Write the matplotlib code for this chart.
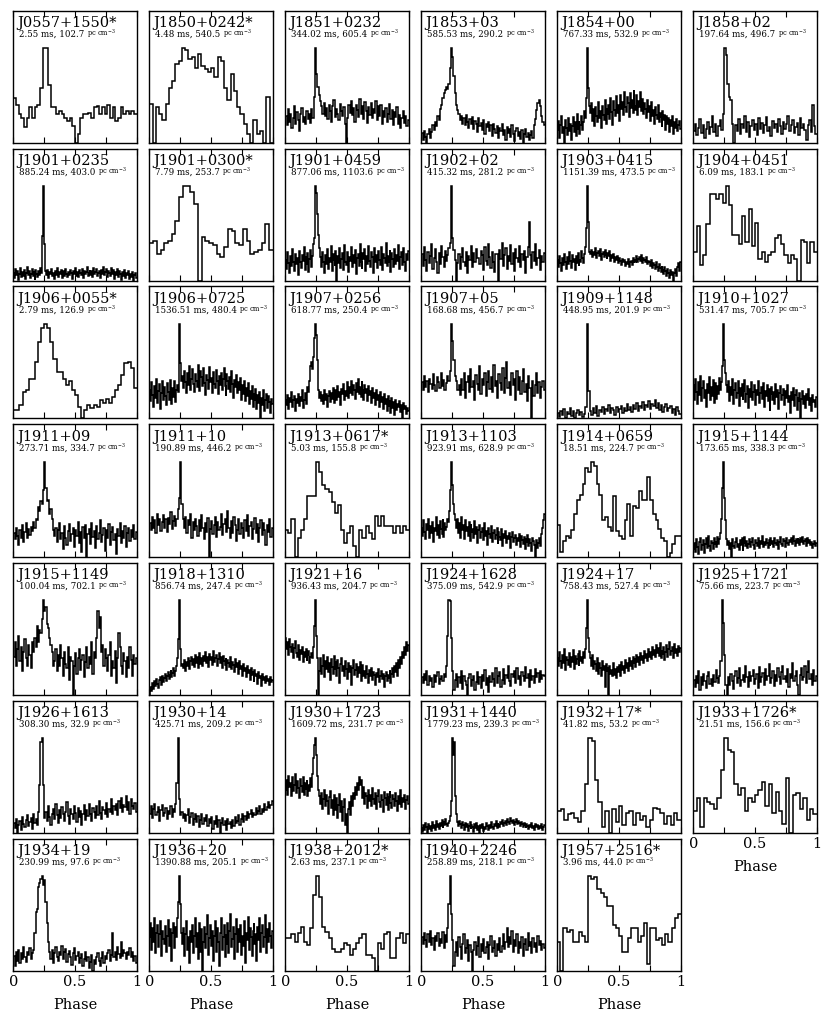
import numpy as np
import matplotlib
matplotlib.use("Agg")
from matplotlib import pyplot as plt

plt.rcParams["font.family"] = "DejaVu Serif"
plt.rcParams["mathtext.fontset"] = "dejavuserif"

names = ["J0557+1550*", "J1850+0242*", "J1851+0232", "J1853+03", "J1854+00", "J1858+02",
         "J1901+0235", "J1901+0300*", "J1901+0459", "J1902+02", "J1903+0415", "J1904+0451",
         "J1906+0055*", "J1906+0725", "J1907+0256", "J1907+05", "J1909+1148", "J1910+1027",
         "J1911+09", "J1911+10", "J1913+0617*", "J1913+1103", "J1914+0659", "J1915+1144",
         "J1915+1149", "J1918+1310", "J1921+16", "J1924+1628", "J1924+17", "J1925+1721",
         "J1926+1613", "J1930+14", "J1930+1723", "J1931+1440", "J1932+17*", "J1933+1726*",
         "J1934+19", "J1936+20", "J1938+2012*", "J1940+2246", "J1957+2516*"]
periods = [2.55, 4.48, 344.02, 585.53, 767.33, 197.64,
           885.24, 7.79, 877.06, 415.32, 1151.39, 6.09,
           2.79, 1536.51, 618.77, 168.68, 448.95, 531.47,
           273.71, 190.89, 5.03, 923.91, 18.51, 173.65,
           100.04, 856.74, 936.43, 375.09, 758.43, 75.66,
           308.30, 425.71, 1609.72, 1779.23, 41.82, 21.51,
           230.99, 1390.88, 2.63, 258.89, 3.96]
dms = [102.7, 540.5, 605.4, 290.2, 532.9, 496.7,
       403.0, 253.7, 1103.6, 281.2, 473.5, 183.1,
       126.9, 480.4, 250.4, 456.7, 201.9, 705.7,
       334.7, 446.2, 155.8, 628.9, 224.7, 338.3,
       702.1, 247.4, 204.7, 542.9, 527.4, 223.7,
       32.9, 209.2, 231.7, 239.3, 53.2, 156.6,
       97.6, 205.1, 237.1, 218.1, 44.0]

# pulse profiles (0 = min, 100 = max)
j0557 = [47, 40, 30, 26, 16, 26, 37, 26, 37, 40, 57, 100, 100, 61, 37, 37, 30, 33, 30, 26, 23, 26, 17, 0, 9, 26, 30, 30, 31, 26, 37, 38, 30, 37, 30, 40, 26, 37, 23, 26, 37, 30, 33, 30, 33, 30]
j1850 = [40, 0, 37, 30, 23, 40, 57, 64, 82, 85, 99, 96, 87, 89, 78, 92, 80, 77, 73, 78, 68, 89, 85, 57, 44, 71, 54, 37, 30, 19, 9, 0, 23, 9, 12, 0, 47, 0]
j1851 = [28, 18, 35, 22, 30, 15, 26, 38, 20, 32, 24, 12, 30, 36, 22, 27, 19, 33, 25, 30, 21, 35, 26, 48, 100, 72, 58, 50, 44, 38,
         30, 42, 28, 36, 25, 40, 33, 22, 38, 45, 27, 35, 30, 24, 41, 33, 28, 37, 20, 0, 26, 39, 31, 44, 29, 36, 22, 40, 34, 27,
         46, 30, 38, 25, 43, 33, 21, 37, 29, 42, 26, 35, 31, 44, 24, 38, 28, 40, 19, 33, 27, 36, 22, 30, 41, 25, 34, 18, 32, 27,
         37, 20, 29, 15, 26, 33, 21, 28, 17, 24]
j1853 = [10, 3, 12, 6, 0, 9, 14, 5, 11, 18, 13, 22, 17, 28, 24, 35, 40, 47, 52, 55, 58, 56, 62, 78, 100, 90, 70, 52, 40, 34,
         30, 24, 28, 20, 26, 18, 29, 22, 15, 25, 19, 27, 14, 23, 20, 11, 26, 17, 21, 13, 24, 9, 19, 16, 22, 12, 18, 7, 20, 14,
         10, 17, 5, 15, 12, 19, 8, 13, 3, 16, 10, 14, 6, 18, 9, 2, 12, 15, 7, 11, 4, 13, 0, 9, 14, 6, 10, 3, 8, 12,
         5, 18, 25, 34, 42, 45, 38, 28, 22, 18]
j1854 = [22, 30, 14, 27, 35, 19, 25, 10, 31, 24, 17, 33, 21, 28, 12, 26, 34, 20, 29, 16, 37, 23, 30, 18, 27, 35, 22, 29, 40, 33, 52,
         100, 62, 45,
         38, 47, 30, 42, 26, 44, 35, 29, 48, 33, 40, 24, 45, 36, 31, 50, 28, 43, 37, 46, 32, 52, 39, 27, 49, 41, 35, 54, 38, 46,
         30, 55, 42, 48, 36, 58, 44, 39, 53, 47, 34, 57, 43, 50, 38, 60, 45, 41, 55, 36, 49, 44, 58, 40, 51, 37, 47, 42, 33, 50,
         39, 45, 30, 48, 35, 41, 28, 44, 36, 32, 46, 29, 38, 34, 25, 40, 31, 36, 22, 35, 28, 33, 20, 31, 26, 35, 18, 29, 24, 32,
         21, 27, 30, 23]
j1858 = [12, 20, 8, 15, 25, 10, 18, 5, 14, 22, 9, 16, 28, 11, 19, 7, 17, 24, 13, 30, 100, 92, 62, 48, 45, 20,
         0, 18, 12, 25, 9, 20, 15, 28, 11, 22, 6, 17, 24, 13, 19, 8, 26, 14, 21, 10, 18, 27, 12, 16, 7, 23, 15, 20, 11, 25,
         17, 9, 22, 14, 19, 28, 12, 18, 24, 10, 16, 21, 8, 26, 15, 20, 13, 3, 18, 24, 11, 40, 17, 9]
j1901a = [10, 5, 14, 8, 12, 3, 9, 15, 6, 11, 7, 13, 4, 10, 16, 8, 12, 5, 9, 14, 7, 11, 3, 13, 9, 6, 12, 8, 15, 10,
          48, 100, 40, 12,
          8, 13, 5, 11, 9, 14, 7, 10, 4, 12, 8, 15, 6, 11, 9, 13, 5, 10, 12, 7, 14, 9, 6, 11, 8, 13, 10, 4, 12, 9,
          15, 7, 11, 6, 13, 10, 8, 14, 5, 12, 9, 11, 16, 7, 10, 13, 8, 12, 6, 15, 9, 11, 14, 7, 10, 12, 5, 13, 9, 16,
          8, 11, 14, 6, 12, 10, 7, 15, 9, 13, 4, 11, 8, 14, 10, 6, 12, 9, 3, 11, 7, 13, 5, 10, 8, 12, 4, 9, 6, 11,
          2, 8, 10, 5]
j1901b = [39, 42, 28, 32, 39, 42, 49, 63, 88, 100, 100, 93, 81, 0, 46, 42, 39, 37, 28, 25, 35, 54, 52, 39, 37, 54, 42, 28, 30, 32, 39, 60, 32]
j1901c = [22, 12, 30, 18, 8, 26, 15, 33, 20, 10, 28, 17, 24, 6, 31, 19, 13, 27, 21, 35, 11, 25, 16, 29, 9, 23, 32, 14, 26, 38, 45,
          100, 92, 70, 48, 34,
          25, 14, 30, 20, 8, 27, 17, 33, 12, 24, 19, 36, 10, 28, 22, 15, 31, 0, 26, 18, 34, 13, 23, 29, 11, 37, 20, 16, 30, 9,
          25, 21, 35, 14, 27, 18, 32, 7, 24, 28, 15, 38, 20, 12, 29, 23, 33, 10, 26, 17, 36, 21, 14, 30, 25, 8, 34, 19, 27, 13,
          31, 22, 16, 35, 11, 28, 24, 18, 40, 15, 26, 20, 32, 9, 29, 23, 14, 33, 17, 27, 21, 37, 12, 25, 30, 16, 34, 19, 10, 28,
          22, 31]
j1902 = [28, 15, 35, 22, 10, 30, 18, 26, 38, 12, 24, 33, 20, 8, 29, 17, 36, 25, 14, 31, 21, 27, 34, 40,
         100, 45, 32, 22, 0,
         18, 28, 12, 25, 34, 20, 15, 30, 8, 26, 22, 36, 14, 29, 19, 33, 24, 24, 17, 31, 27, 11, 35, 21, 16, 38, 25, 13, 30, 20,
         9, 28, 28, 0, 32, 23, 40, 15, 27, 34, 12, 26, 21, 37, 17, 29, 10, 33, 24, 19, 36, 14, 28, 22, 31, 8, 25, 35, 62, 27,
         13, 30, 21, 38, 16, 24, 32, 11, 26, 20, 29]
j1903 = [22, 14, 26, 18, 10, 24, 16, 28, 20, 12, 25, 17, 30, 21, 13, 27, 19, 23, 11, 26, 18, 29, 15, 22, 20, 31, 24, 18, 28, 35,
         55, 100, 62, 30,
         28, 32, 25, 30, 27, 34, 24, 29, 31, 26, 33, 22, 28, 30, 25, 32, 27, 23, 29, 26, 31, 21, 27, 24, 28, 20, 25, 22, 26, 18,
         24, 21, 16, 23, 19, 22, 15, 20, 17, 23, 14, 19, 21, 16, 24, 18, 22, 20, 26, 19, 23, 25, 21, 27, 18, 24, 22, 20, 25, 17,
         21, 19, 15, 22, 13, 18, 16, 12, 19, 14, 10, 17, 13, 9, 15, 11, 7, 14, 10, 5, 12, 8, 3, 11, 6, 9, 0, 8, 12, 5,
         14, 18, 10, 20]
j1904 = [30, 57, 16, 27, 59, 91, 91, 86, 91, 82, 100, 79, 48, 48, 38, 68, 41, 75, 36, 61, 23, 30, 20, 27, 30, 45, 48, 38, 27, 18, 27, 23, 0, 43, 41, 18, 41, 30]
j1906a = [9, 9, 14, 28, 30, 42, 42, 60, 81, 95, 100, 95, 81, 63, 49, 49, 42, 35, 39, 30, 25, 12, 0, 9, 14, 11, 14, 12, 19, 16, 21, 16, 23, 30, 35, 46, 58, 60, 53, 32]
j1906b = [30, 18, 38, 25, 12, 34, 22, 42, 16, 29, 36, 10, 27, 40, 20, 33, 24, 14, 37, 28, 19, 41, 26, 15, 32, 23, 39, 17, 30, 35, 28,
          100, 58, 40,
          45, 32, 50, 38, 27, 48, 35, 55, 30, 42, 52, 36, 28, 47, 40, 33, 56, 39, 29, 50, 44, 34, 53, 37, 25, 46, 41, 31, 54, 38,
          43, 27, 49, 36, 32, 51, 40, 26, 45, 35, 48, 30, 42, 53, 34, 24, 47, 39, 31, 44, 28, 50, 36, 22, 41, 33, 46, 27, 38, 30,
          43, 20, 35, 26, 40, 18, 32, 24, 37, 15, 29, 21, 34, 12, 27, 19, 31, 10, 25, 16, 28, 0, 22, 14, 30, 8, 20, 26, 11, 24,
          17, 6, 21, 15]
j1907a = [20, 14, 25, 10, 22, 17, 28, 12, 19, 24, 8, 21, 16, 26, 13, 23, 18, 30, 11, 20, 27, 15, 24, 33, 28, 40, 55,
          60, 52, 65, 85, 100, 88, 62, 30,
          22, 28, 18, 25, 15, 30, 20, 26, 12, 24, 29, 17, 27, 21, 32, 16, 25, 30, 19, 34, 23, 28, 14, 31, 26, 36, 20, 29, 24, 38,
          22, 33, 27, 40, 25, 35, 30, 21, 37, 28, 42, 26, 33, 23, 39, 30, 20, 35, 27, 31, 18, 34, 25, 29, 16, 32, 22, 27, 14, 30,
          19, 25, 12, 28, 17, 23, 10, 26, 15, 21, 8, 24, 13, 19, 6, 22, 11, 17, 4, 20, 9, 15, 12, 18, 7, 14, 0, 16, 10, 13,
          5, 11, 8]
j1907b = [38, 30, 45, 33, 40, 28, 42, 36, 31, 47, 35, 29, 44, 38, 32, 48, 34, 41, 30, 37, 45, 39, 50,
          100, 82, 62, 45, 40, 30,
          35, 25, 42, 30, 48, 22, 38, 45, 28, 52, 33, 40, 20, 46, 36, 30, 55, 26, 42, 35, 48, 24, 38, 50, 31, 44, 28, 56, 34, 40,
          22, 47, 37, 30, 53, 27, 43, 60, 32, 38, 25, 48, 35, 42, 20, 50, 30, 44, 26, 39, 52, 28, 36, 18, 45, 32, 0, 40, 24, 35,
          48, 27, 38, 22, 33, 40, 30]
j1909 = [8, 4, 10, 6, 12, 3, 9, 7, 13, 5, 10, 2, 8, 11, 6, 9, 4, 7, 14, 100, 30,
         10, 6, 13, 8, 15, 5, 11, 9, 14, 7, 12, 10, 16, 8, 13, 11, 6, 14, 9, 12, 15, 8, 13, 10, 17, 11, 14, 9, 16, 12,
         18, 10, 15, 13, 19, 11, 16, 14, 20, 12, 17, 15, 21, 13, 18, 11, 16, 9, 14, 17, 10, 13, 15, 8, 12, 6, 14, 10, 7]
j1910 = [35, 20, 42, 28, 15, 38, 25, 45, 18, 32, 40, 22, 30, 12, 36, 27, 44, 19, 33, 24, 41, 16, 29, 37, 21, 34, 26, 43, 30, 38,
         55, 100, 62, 48, 35,
         28, 40, 18, 33, 25, 42, 15, 30, 37, 22, 27, 39, 13, 32, 24, 36, 20, 29, 41, 17, 26, 34, 11, 31, 23, 38, 19, 28, 35, 14,
         30, 25, 40, 16, 27, 33, 21, 37, 12, 29, 24, 35, 18, 31, 8, 26, 33, 20, 28, 15, 36, 23, 30, 10, 27, 34, 19, 25, 31, 14,
         29, 22, 35, 17, 24, 6, 28, 20, 32, 13, 25, 30, 9, 23, 18, 27, 0, 21, 29, 15, 24, 11, 26, 19, 31, 14, 22, 8, 25, 17,
         20, 12, 23]
j1911a = [25, 18, 30, 22, 12, 28, 20, 33, 15, 26, 35, 19, 29, 23, 31, 27, 36, 30,
          40, 38, 52, 48, 58, 55, 70, 100, 72, 58, 60, 45, 50, 40, 28,
          22, 30, 15, 28, 35, 18, 25, 8, 32, 20, 12, 27, 34, 16, 24, 30, 10, 28, 22, 36, 14, 26, 5, 31, 19, 33, 0, 24, 29, 13,
          35, 21, 27, 9, 32, 18, 25, 38, 15, 23, 30, 6, 28, 20, 34, 12, 26, 31, 17, 24, 3, 29, 22, 35, 14, 27, 19, 32, 10, 25,
          30, 16, 28, 21, 33, 18, 26]
j1911b = [35, 28, 42, 30, 38, 25, 45, 33, 40, 27, 36, 44, 30, 39, 26, 41, 34, 47, 29, 37, 43, 32, 40, 50,
          62, 100, 55, 40,
          30, 42, 25, 38, 33, 45, 20, 36, 28, 40, 32, 22, 38, 27, 44, 30, 18, 35, 26, 41, 0, 29, 37, 24, 33, 42, 21, 36, 28, 31,
          45, 23, 34, 39, 26, 48, 30, 19, 37, 25, 42, 33, 16, 28, 40, 24, 35, 30, 20, 38, 27, 44, 22, 32, 36, 18, 29, 41, 25, 34,
          15, 30, 38, 23, 35, 28, 12, 33, 26, 40, 21, 30]
j1913a = [28, 25, 39, 0, 20, 28, 39, 64, 64, 64, 100, 89, 75, 71, 68, 57, 46, 54, 28, 14, 25, 32, 11, 0, 28, 20, 32, 25, 18, 43, 32, 43, 32, 32, 32, 25, 32, 25, 32, 28]
j1913b = [30, 22, 38, 26, 18, 34, 28, 40, 20, 32, 25, 36, 15, 30, 27, 42, 23, 33, 19, 37, 29, 24, 39, 21, 35, 28, 31, 40, 36, 48,
          70, 100, 75, 55, 45, 38,
          30, 40, 25, 35, 20, 42, 28, 33, 18, 38, 27, 31, 22, 36, 16, 34, 26, 29, 20, 37, 24, 31, 14, 28, 33, 19, 26, 30, 17, 35,
          22, 27, 12, 30, 24, 20, 32, 15, 25, 28, 18, 23, 30, 13, 26, 21, 17, 29, 11, 24, 20, 27, 14, 22, 18, 25, 9, 21, 26, 15,
          19, 23, 12, 20, 16, 24, 10, 22, 17, 13, 21, 8, 19, 15, 23, 11, 18, 14, 6, 20, 16, 12, 0, 17, 9, 14, 19, 11, 24, 30,
          38, 45]
j1914 = [33, 5, 16, 22, 20, 28, 45, 60, 65, 76, 93, 89, 100, 95, 76, 65, 38, 42, 31, 27, 64, 27, 22, 18, 38, 55, 22, 53, 51, 69, 60, 60, 84, 60, 45, 38, 29, 20, 16, 0, 4, 13, 22, 22]
j1915a = [8, 14, 5, 18, 10, 3, 15, 20, 7, 12, 17, 4, 13, 19, 9, 22, 11, 6, 16, 14, 8, 19, 12, 15, 10, 21, 13, 18, 25,
          40, 72, 100, 62, 38, 18,
          12, 16, 8, 14, 0, 18, 11, 9, 15, 20, 10, 13, 7, 17, 12, 19, 6, 14, 21, 11, 16, 9, 13, 18, 10, 15, 20, 12, 8, 17,
          14, 11, 19, 9, 16, 13, 22, 10, 15, 12, 18, 14, 9, 17, 11, 20, 13, 16, 10, 19, 14, 12, 17, 8, 15, 21, 13, 11, 18, 16,
          10, 20, 14, 12, 17, 15, 19, 13, 22, 16, 11, 18, 14, 20, 17, 12, 19, 15, 21, 13, 16, 18, 11, 20, 14, 17, 12, 15, 9, 13,
          16, 11, 14]
j1915b = [40, 55, 30, 48, 62, 35, 50, 25, 45, 58, 38, 30, 52, 42, 28, 55, 45, 60, 50,
          72, 55, 68, 65, 80, 100, 88, 92, 74, 70, 60, 52, 45, 30,
          35, 48, 25, 42, 30, 52, 38, 20, 45, 32, 28, 50, 15, 40, 35, 0, 30, 44, 22, 38, 48, 26, 36, 42, 18, 34, 50, 28, 40, 32,
          55, 22, 45, 38, 60, 88, 70, 82, 45, 52, 30, 48, 38, 25, 42, 55, 20, 35, 28, 46, 12, 38, 65, 50, 30, 22, 44, 35, 18, 40,
          28, 50, 36, 20, 42, 32, 38]
j1918 = [0, 8, 4, 12, 6, 14, 9, 16, 11, 7, 15, 18, 10, 20, 13, 17, 22, 14, 19, 24, 16, 21, 26, 18, 23, 28, 20, 25, 30, 38,
         58, 100, 48, 30,
         32, 28, 36, 25, 34, 30, 38, 27, 35, 40, 31, 37, 29, 42, 33, 39, 28, 36, 44, 32, 38, 30, 41, 35, 45, 33, 39, 29, 43, 36,
         40, 31, 46, 34, 38, 42, 30, 37, 44, 33, 39, 28, 41, 35, 31, 38, 26, 36, 33, 29, 40, 27, 34, 31, 24, 37, 29, 33, 22, 35,
         27, 30, 20, 32, 25, 28, 18, 30, 23, 26, 15, 28, 21, 24, 13, 26, 19, 22, 11, 24, 17, 20, 9, 22, 15, 18, 12, 20, 14, 16,
         10, 18, 13, 15]
j1921 = [60, 48, 55, 42, 58, 50, 45, 53, 38, 49, 56, 44, 40, 52, 36, 47, 43, 50, 34, 45, 39, 48, 35, 42, 46, 33, 40, 44, 38, 50,
         72, 100, 62, 38,
         0, 25, 38, 22, 30, 42, 18, 35, 27, 40, 24, 33, 15, 37, 29, 22, 41, 26, 34, 19, 36, 28, 12, 32, 38, 25, 30, 20, 35, 27,
         16, 33, 24, 30, 10, 28, 36, 21, 26, 32, 18, 29, 23, 34, 14, 27, 31, 20, 25, 17, 30, 22, 12, 26, 19, 28, 15, 24, 21, 10,
         23, 18, 27, 13, 20, 25, 16, 22, 8, 19, 24, 14, 21, 17, 26, 12, 22, 28, 18, 30, 24, 33, 20, 36, 28, 40, 32, 45, 38, 50,
         42, 55, 46, 52]
j1924a = [18, 12, 22, 15, 25, 10, 20, 14, 17, 8, 21, 13, 19, 24, 11, 16, 20, 14, 22, 18, 30,
          62, 100, 98, 60, 25, 5,
          15, 22, 8, 18, 12, 25, 6, 20, 14, 10, 0, 17, 22, 9, 15, 19, 5, 13, 24, 11, 18, 7, 21, 14, 26, 10, 17, 3, 20, 13,
          23, 16, 9, 28, 12, 19, 24, 8, 15, 27, 11, 21, 17, 30, 14, 9, 22, 18, 25, 12, 28, 16, 20, 10, 24, 19, 14, 29, 17, 22,
          8, 26, 15, 20, 12, 27, 18, 23, 13, 25, 16, 21, 19]
j1924b = [38, 30, 45, 35, 28, 42, 33, 48, 26, 40, 36, 31, 44, 29, 39, 34, 47, 27, 41, 32, 37, 43, 30, 46, 35, 40, 33, 45, 38, 48,
          70, 100, 60, 45,
          38, 30, 42, 27, 35, 32, 25, 38, 22, 33, 28, 20, 35, 26, 30, 8, 32, 24, 28, 0, 30, 22, 26, 19, 33, 21, 27, 17, 29, 24,
          31, 20, 34, 26, 30, 23, 36, 28, 33, 25, 38, 30, 35, 27, 40, 32, 37, 29, 42, 34, 39, 31, 44, 36, 41, 33, 46, 38, 43, 35,
          48, 40, 45, 37, 50, 42, 47, 39, 52, 44, 49, 41, 54, 38, 47, 43, 50, 36, 45, 52, 40, 48, 55, 42, 46, 50, 38, 53, 44, 48,
          41, 51, 45, 49]
j1925 = [15, 8, 20, 12, 25, 5, 18, 10, 22, 14, 7, 19, 24, 11, 16, 9, 21, 13, 26, 17, 12, 20,
         35, 100, 75, 42, 10, 0,
         18, 10, 22, 14, 6, 20, 25, 12, 17, 28, 9, 15, 21, 13, 30, 18, 8, 24, 14, 19, 26, 11, 16, 22, 7, 29, 13, 18, 23, 10,
         27, 15, 20, 32, 12, 17, 25, 9, 21, 14, 28, 18, 11, 24, 30, 16, 20, 13, 27, 8, 22, 17, 33, 14, 19, 25, 10, 0, 21, 28,
         15, 18, 30, 12, 24, 35, 16, 22, 10, 26, 14, 20]
j1926 = [10, 5, 14, 0, 8, 12, 3, 16, 9, 6, 13, 18, 7, 11, 15, 4, 20, 10, 14, 8, 22,
         50, 95, 100, 50, 15,
         22, 12, 28, 16, 8, 20, 25, 14, 30, 18, 10, 24, 15, 27, 20, 12, 22, 32, 17, 9, 25, 19, 14, 28, 21, 11, 26, 16, 23, 8,
         19, 29, 13, 24, 17, 30, 20, 12, 26, 22, 15, 28, 18, 33, 21, 14, 27, 24, 19, 31, 16, 25, 22, 35, 20, 28, 24, 30, 18, 33,
         26, 36, 22, 29, 27, 38, 24, 32, 20, 35, 28, 25, 31, 22]
j1930a = [20, 28, 15, 25, 30, 18, 22, 27, 12, 24, 29, 17, 21, 26, 14, 23, 19, 28, 16, 25, 22, 30,
          52, 100, 35, 18,
          22, 15, 20, 12, 18, 25, 10, 16, 21, 8, 14, 19, 11, 17, 6, 13, 20, 9, 15, 12, 18, 7, 14, 10, 16, 4, 12, 9, 17, 6,
          13, 0, 10, 15, 8, 12, 3, 14, 9, 11, 5, 13, 7, 16, 10, 12, 18, 8, 14, 20, 11, 17, 13, 22, 15, 19, 24, 16, 21, 18,
          26, 20, 23, 28, 19, 25, 22, 30, 24, 27, 32, 26, 29, 33]
j1930b = [45, 55, 40, 60, 48, 52, 38, 58, 44, 50, 62, 42, 54, 47, 36, 56, 49, 43, 58, 40, 52, 46, 55, 38, 50, 44, 57, 48, 62,
          78, 92, 100, 82, 60, 45,
          38, 30, 42, 25, 35, 45, 28, 40, 33, 20, 37, 44, 26, 34, 18, 39, 31, 24, 36, 15, 29, 41, 22, 33, 12, 27, 35, 8, 20, 0,
          25, 32, 18, 38, 28, 42, 35, 48, 40, 52, 45, 58, 50, 55, 44, 36, 48, 30, 42, 38, 26, 45, 33, 40, 28, 47, 35, 30, 42, 25,
          38, 45, 32, 27, 40, 34, 22, 43, 36, 29, 41, 24, 37, 44, 31, 26, 39, 35, 28, 42, 33, 23, 38, 30, 45, 27, 36, 32, 40, 25,
          34, 38, 30]
j1931 = [8, 4, 11, 6, 13, 9, 3, 12, 7, 10, 5, 14, 8, 11, 6, 15, 9, 12, 7, 13, 10, 16, 8, 14, 11, 17, 12, 10, 13, 15, 20,
         35, 100, 82, 95, 40, 22, 14,
         10, 15, 12, 8, 14, 11, 6, 13, 9, 12, 5, 10, 14, 7, 11, 9, 4, 12, 8, 13, 6, 10, 3, 11, 8, 12, 5, 9, 7, 13,
         10, 6, 11, 8, 14, 9, 7, 12, 10, 15, 8, 13, 11, 9, 14, 12, 16, 10, 13, 15, 11, 17, 14, 12, 18, 15, 13, 16, 11, 14,
         17, 12, 15, 13, 10, 14, 12, 9, 13, 11, 8, 12, 10, 7, 11, 9, 13, 8, 10, 6, 12, 9, 11, 7, 10, 8, 12, 6, 9, 11]
j1932 = [23, 25, 13, 19, 21, 15, 11, 23, 51, 100, 96, 55, 32, 6, 23, 0, 25, 11, 28, 8, 21, 23, 8, 21, 13, 17, 6, 13, 26, 25, 21, 9, 17, 8, 21, 13]
j1933 = [23, 36, 6, 36, 32, 30, 25, 36, 66, 100, 87, 85, 51, 40, 47, 23, 36, 32, 40, 45, 53, 28, 51, 21, 43, 23, 9, 57, 0, 40, 42, 25, 36, 13, 25, 19]
j1934 = [15, 5, 20, 10, 22, 8, 18, 12, 25, 14, 9, 20, 16, 24, 12, 18, 22,
         40, 62, 65, 88, 92, 96, 100, 90, 95, 72, 50, 30, 20,
         12, 22, 8, 18, 25, 14, 10, 20, 16, 26, 12, 19, 23, 9, 17, 21, 14, 6, 18, 24, 11, 15, 20, 8, 13, 17, 5, 12, 19, 10,
         14, 3, 9, 16, 0, 11, 7, 14, 18, 10, 5, 13, 20, 8, 15, 12, 18, 22, 10, 16, 40, 14, 20, 11, 25, 17, 13, 30, 15, 22,
         18, 12, 20, 16, 24, 14, 19, 10, 15, 8]
j1936 = [35, 50, 22, 45, 30, 55, 18, 40, 48, 25, 38, 52, 15, 42, 33, 28, 47, 20, 36, 53, 26, 44, 31, 10, 39, 50, 24, 46, 35, 55,
         72, 100, 70, 40,
         28, 45, 15, 38, 52, 22, 35, 8, 42, 30, 48, 18, 36, 55, 25, 40, 12, 33, 50, 20, 44, 0, 30, 46, 24, 38, 58, 16, 34, 48,
         26, 42, 10, 36, 52, 20, 45, 30, 5, 40, 55, 22, 35, 48, 14, 38, 28, 50, 18, 42, 60, 25, 33, 46, 12, 38, 54, 20, 44, 30,
         48, 16, 36, 26, 52, 8, 40, 32, 56, 22, 45, 35, 15, 42, 50, 28, 38, 10, 46, 32, 55, 20, 40, 48, 25, 35, 58, 18, 44, 30,
         50, 36, 24, 42]
j1938 = [34, 34, 38, 30, 39, 46, 30, 27, 45, 80, 100, 77, 46, 41, 34, 23, 20, 20, 23, 29, 27, 16, 23, 29, 34, 38, 16, 16, 13, 0, 29, 23, 38, 41, 13, 13, 34, 39, 29, 38]
j1940 = [35, 28, 40, 32, 25, 38, 30, 42, 27, 34, 22, 36, 31, 39, 26, 33, 29, 41, 24, 37, 30, 45,
         70, 100, 60, 32, 5,
         20, 30, 15, 35, 25, 12, 28, 38, 18, 24, 32, 10, 27, 20, 0, 22, 30, 16, 26, 35, 14, 28, 21, 33, 18, 25, 30, 12, 27, 36,
         20, 24, 31, 15, 28, 22, 34, 19, 26, 38, 23, 30, 45, 25, 35, 28, 42, 20, 32, 26, 38, 18, 30, 24, 35, 15, 28, 33, 22, 40,
         26, 30, 18, 34, 25, 29, 20, 36, 27, 31, 22, 28, 24]
j1957 = [30, 0, 45, 41, 43, 30, 30, 41, 36, 30, 100, 96, 98, 86, 82, 77, 68, 68, 48, 45, 36, 20, 20, 34, 45, 45, 30, 36, 50, 7, 45, 45, 32, 34, 27, 38, 30, 45, 55, 59]

profiles = [j0557, j1850, j1851, j1853, j1854, j1858,
            j1901a, j1901b, j1901c, j1902, j1903, j1904,
            j1906a, j1906b, j1907a, j1907b, j1909, j1910,
            j1911a, j1911b, j1913a, j1913b, j1914, j1915a,
            j1915b, j1918, j1921, j1924a, j1924b, j1925,
            j1926, j1930a, j1930b, j1931, j1932, j1933,
            j1934, j1936, j1938, j1940, j1957]

W, H = 830.0, 1025.0
fig = plt.figure(figsize=(W / 100, H / 100), dpi=100)

subs = []
for k, prof in enumerate(profiles):
    r, c = divmod(k, 6)
    left = (13.3 + 136 * c) / W
    top = 10.5 + 138 * r
    ax = fig.add_axes([left, 1 - (top + 132) / H, 123.5 / W, 132 / H])
    y = np.array(prof, dtype=float)
    edges = np.linspace(0, 1, len(y) + 1)
    ax.stairs(y, edges, baseline=None, color="k", lw=1.1)
    lo, hi = y.min(), y.max()
    ax.set_xlim(0, 1)
    ax.set_ylim(lo, lo + 1.39 * (hi - lo))
    ax.set_yticks([])
    ax.set_xticks([0, 0.25, 0.5, 0.75, 1])
    ax.tick_params(axis="x", direction="in", top=True, length=4, width=0.8, labelsize=10.5)
    for s in ax.spines.values():
        s.set_linewidth(1.0)
    if r == 6 or (r == 5 and c == 5):
        ax.set_xticklabels(["0", "", "0.5", "", "1"])
        ax.set_xlabel("Phase", fontsize=10.5, labelpad=6)
    else:
        ax.tick_params(labelbottom=False)
    ax.text(0.03, 0.875, names[k], transform=ax.transAxes, fontsize=10.5, va="baseline")
    t = ax.text(0.045, 0.80, "{:.2f} ms, {:.1f} ".format(periods[k], dms[k]),
                transform=ax.transAxes, fontsize=6.2, va="baseline")
    subs.append((ax, t))

# unit in a smaller font, placed right after the numbers on the same baseline
fig.canvas.draw()
for ax, t in subs:
    bb = t.get_window_extent().transformed(ax.transAxes.inverted())
    ax.text(bb.x1, 0.80, "pc cm$^{-3}$", transform=ax.transAxes, fontsize=4.8, va="baseline")

fig.savefig("out.png", dpi=100)
